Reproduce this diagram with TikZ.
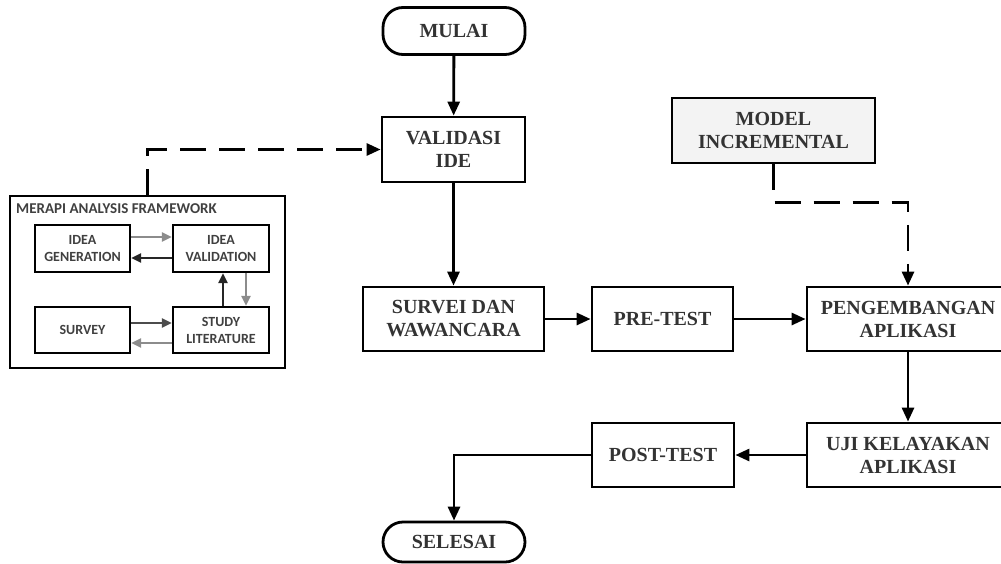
\documentclass[tikz,border=0pt]{standalone}
\usepackage{fontspec}
\setmainfont{Liberation Serif}
\newfontfamily\carl{Carlito}
\usetikzlibrary{arrows.meta,positioning}
\tikzset{
  mainbox/.style={draw, line width=2.8pt, align=center, inner sep=2pt,
    font=\fontsize{20}{23}\selectfont\bfseries, text=black!80},
  pill/.style={mainbox, rounded corners=20pt},
  smallbox/.style={draw, line width=2.2pt, align=center, inner sep=1pt,
    font=\carl\fontsize{14}{17}\selectfont\bfseries, text=black!75},
  arr/.style={line width=2.8pt, -{Triangle[length=14pt,width=12pt]}},
  dasharr/.style={arr, dash pattern=on 26pt off 13pt},
  blk/.style={line width=2.2pt, -{Triangle[length=10pt,width=9pt]}, black!85},
  gry/.style={line width=2.2pt, -{Triangle[length=10pt,width=9pt]}, black!45},
}
\definecolor{modelfill}{HTML}{F3F3F3}
\begin{document}
\begin{tikzpicture}[x=1pt,y=-1pt]
\useasboundingbox (0,0) rectangle (1001,563);
% main flow
\node[pill, minimum width=142pt, minimum height=47pt] (mulai) at (454,31) {MULAI};
\node[mainbox, minimum width=143pt, minimum height=65pt] (valid) at (453.5,149.5) {VALIDASI\\IDE};
\node[mainbox, minimum width=181pt, minimum height=64pt] (survei) at (453.5,319) {SURVEI DAN\\WAWANCARA};
\node[mainbox, minimum width=141pt, minimum height=64pt] (pretest) at (662.5,319) {PRE-TEST};
\node[mainbox, minimum width=202pt, minimum height=64pt] (pengem) at (908,319) {PENGEMBANGAN\\APLIKASI};
\node[mainbox, fill=modelfill, minimum width=203pt, minimum height=65pt] (model) at (773.5,130.5) {MODEL\\INCREMENTAL};
\node[mainbox, minimum width=202pt, minimum height=64pt] (uji) at (908,455) {UJI KELAYAKAN\\APLIKASI};
\node[mainbox, minimum width=142pt, minimum height=64pt] (posttest) at (663,455) {POST-TEST};
\node[pill, minimum width=142pt, minimum height=40pt] (selesai) at (454,542) {SELESAI};
% framework
\node[draw, line width=2.4pt, minimum width=275pt, minimum height=172pt, inner sep=0pt] (merapi) at (147.5,282) {};
\node[anchor=base west, inner sep=0pt, font=\carl\fontsize{15}{17}\selectfont\bfseries, text=black!75] (title) at (16,213) {MERAPI ANALYSIS FRAMEWORK};
\node[smallbox, minimum width=95pt, minimum height=47pt] (ig) at (82.5,248.5) {IDEA\\GENERATION};
\node[smallbox, minimum width=96pt, minimum height=47pt] (iv) at (221,248.5) {IDEA\\VALIDATION};
\node[smallbox, minimum width=95pt, minimum height=46pt] (sv) at (82.5,330) {SURVEY};
\node[smallbox, minimum width=96pt, minimum height=46pt] (sl) at (221,330) {STUDY\\LITERATURE};
% inner arrows
\draw[gry] ([yshift=11.5pt]ig.east) -- ([yshift=11.5pt]iv.west);
\draw[blk] ([yshift=-9.5pt]iv.west) -- ([yshift=-9.5pt]ig.east);
\draw[blk] ([xshift=2pt]sl.north) -- ([xshift=2pt]iv.south);
\draw[gry] ([xshift=25pt]iv.south) -- ([xshift=25pt]sl.north);
\draw[blk, black!70] ([yshift=7pt]sv.east) -- ([yshift=7pt]sl.west);
\draw[gry] ([yshift=-13pt]sl.west) -- ([yshift=-13pt]sv.east);
% main connectors
\draw[arr] (mulai) -- (valid);
\draw[arr] (valid) -- (survei);
\draw[dasharr] (merapi.north) |- (valid.west);
\draw[arr] (survei) -- (pretest);
\draw[arr] (pretest) -- (pengem);
\draw[dasharr] (model.south) -- ++(0,38) -| (pengem.north);
\draw[arr] (pengem) -- (uji);
\draw[arr] (uji) -- (posttest);
\draw[arr] (posttest.west) -| (selesai.north);
\end{tikzpicture}
\end{document}
